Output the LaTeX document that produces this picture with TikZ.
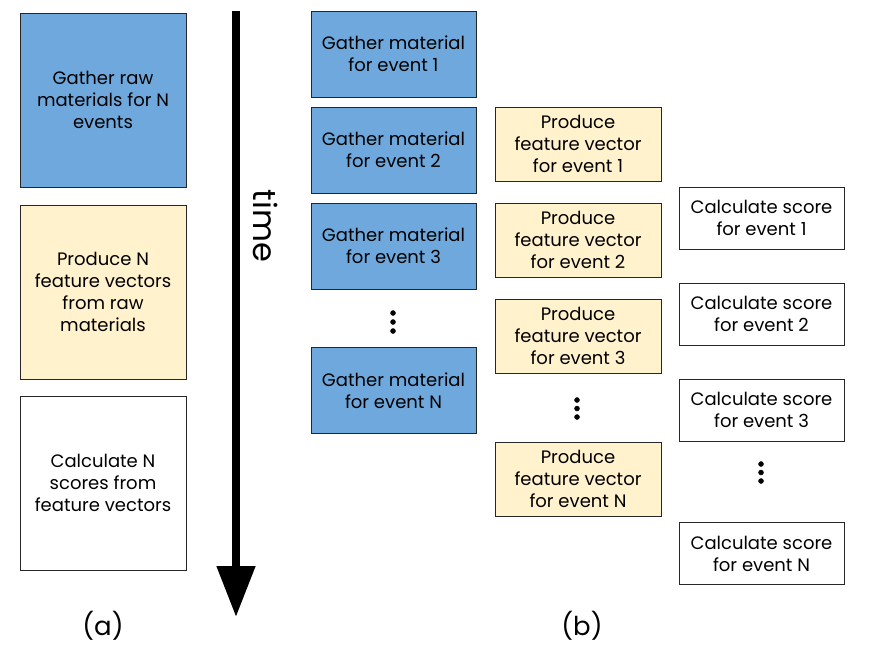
\documentclass[tikz,border=0pt]{standalone}
\usepackage{fontspec}
\setmainfont{Poppins}
\usetikzlibrary{arrows.meta}
\definecolor{gatherblue}{HTML}{6FA8DC}
\definecolor{featureyellow}{HTML}{FFF2CC}
\begin{document}
\begin{tikzpicture}[x=1pt, y=-1pt,
    stage/.style={draw=black!85, line width=0.75pt, inner sep=0pt, align=center,
        font=\fontsize{18}{22}\selectfont},
    gather/.style={stage, fill=gatherblue},
    feature/.style={stage, fill=featureyellow},
    score/.style={stage, fill=white},
    bigstage/.style={minimum width=166pt, minimum height=174pt},
    gatherbox/.style={gather, minimum width=165pt, minimum height=86pt},
    featurebox/.style={feature, minimum width=166pt, minimum height=74pt},
    scorebox/.style={score, minimum width=165pt, minimum height=62pt},
    caption/.style={font=\fontsize{26}{31}\selectfont}]
    \useasboundingbox (0,0) rectangle (872,665);

    % (a) all events at once
    \node[gather, bigstage] (gatherAll) at (103,100) {Gather raw\\materials for N\\events};
    \node[feature, bigstage] (featureAll) at (103,292) {Produce N\\feature vectors\\from raw\\materials};
    \node[score, bigstage] (scoreAll) at (103,483) {Calculate N\\scores from\\feature vectors};
    \node[caption] (capA) at (103,626) {(a)};

    % Time axis
    \coordinate (timeStart) at (236,11);
    \coordinate (timeEnd) at (236,617);
    \draw[line width=8pt, -{Triangle[width=37pt, length=51pt]}] (timeStart) -- (timeEnd);
    \node[font=\fontsize{32}{38}\selectfont, rotate=-90] (timeLabel) at (266,226) {time};

    % (b) gather material, one event at a time
    \node[gatherbox] (g1) at (393.5,54) {Gather material\\for event 1};
    \node[gatherbox] (g2) at (393.5,150) {Gather material\\for event 2};
    \node[gatherbox] (g3) at (393.5,246) {Gather material\\for event 3};
    \node[gatherbox] (gN) at (393.5,390.5) {Gather material\\for event N};
    \filldraw (393,313) circle (2.5pt);
    \filldraw (393,322) circle (2.5pt);
    \filldraw (393,331) circle (2.5pt);

    % (b) feature vectors
    \node[featurebox] (p1) at (578,144) {Produce\\feature vector\\for event 1};
    \node[featurebox] (p2) at (578,240) {Produce\\feature vector\\for event 2};
    \node[featurebox] (p3) at (578,336) {Produce\\feature vector\\for event 3};
    \node[featurebox] (pN) at (578,479) {Produce\\feature vector\\for event N};
    \filldraw (577,400) circle (2.5pt);
    \filldraw (577,408.5) circle (2.5pt);
    \filldraw (577,417) circle (2.5pt);

    % (b) scores
    \node[scorebox] (s1) at (761.5,218) {Calculate score\\for event 1};
    \node[scorebox] (s2) at (761.5,314) {Calculate score\\for event 2};
    \node[scorebox] (s3) at (761.5,410) {Calculate score\\for event 3};
    \node[scorebox] (sN) at (761.5,553.5) {Calculate score\\for event N};
    \filldraw (761,464) circle (2.5pt);
    \filldraw (761,472.5) circle (2.5pt);
    \filldraw (761,481) circle (2.5pt);

    \node[caption] (capB) at (582,626) {(b)};
\end{tikzpicture}
\end{document}
